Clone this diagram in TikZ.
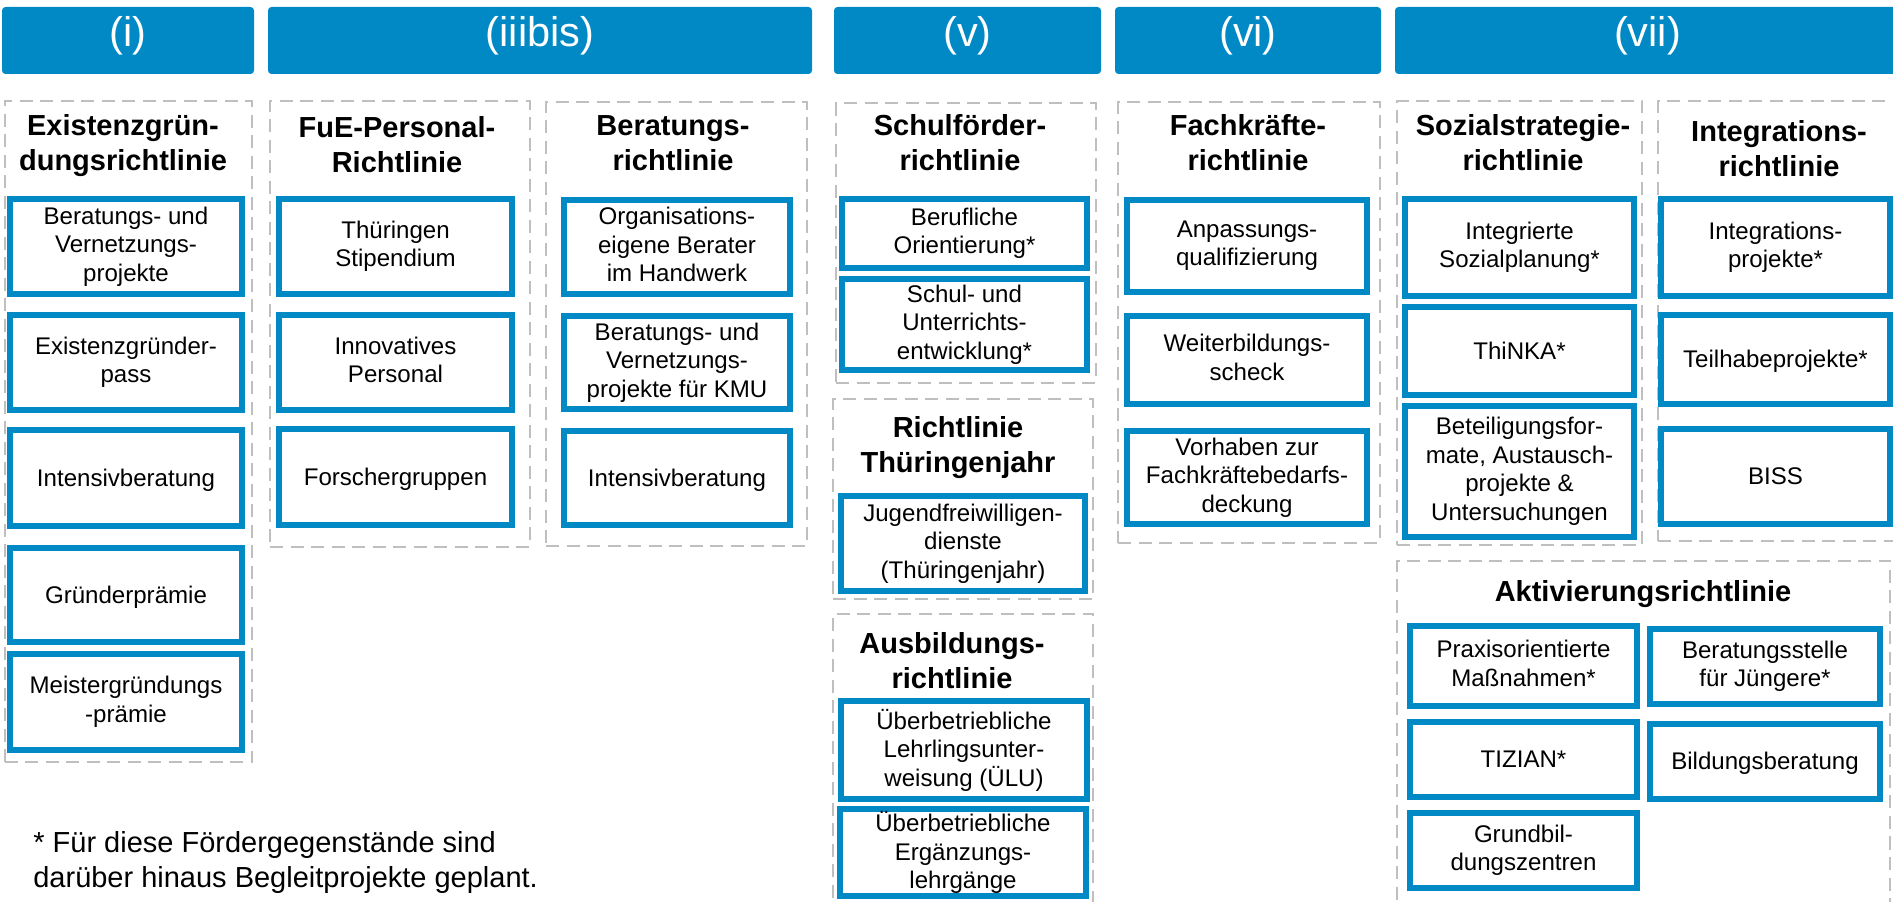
\documentclass[tikz,border=0pt]{standalone}
\usepackage{fontspec}
\setmainfont{Liberation Sans}
\definecolor{headblue}{RGB}{0,137,196}
\definecolor{groupgray}{RGB}{191,191,191}

\begin{document}
\begin{tikzpicture}[x=0.2mm, y=-0.2mm,
    spanbox/.style n args={4}{at={({(#1+#3)/2},{(#2+#4)/2})},
      minimum width={(#3-#1)*0.2mm}, minimum height={(#4-#2)*0.2mm}},
    head/.style={fill=headblue, rounded corners=2pt, inner sep=0pt, text=white,
      text height=0.9em, text depth=0.21em, font=\fontsize{23.6}{28}\selectfont},
    groupbox/.style={draw=groupgray, line width=0.4mm, dash pattern=on 2.6mm off 1.5mm, inner sep=0pt},
    guideline/.style={anchor=north, align=center, inner sep=0pt,
      font=\bfseries\fontsize{16.5}{19.9}\selectfont,
      execute at begin node={\rule{0pt}{0.9em}}},
    itembox/.style={draw=headblue, line width=2.9pt, fill=white, inner sep=0pt, align=center,
      font=\fontsize{13.7}{16.2}\selectfont,
      execute at begin node={\rule{0pt}{0.9em}},
      execute at end node={\rule[-0.21em]{0pt}{0.21em}}}]
  \useasboundingbox (0,0) rectangle (1893,902);
  \clip (0,0) rectangle (1893,902);

  % Headers
  \node[head, spanbox={2}{7}{254}{74}] (hdI) {(i)};
  \node[head, spanbox={268}{7}{812}{74}] (hdIIIbis) {(iiibis)};
  \node[head, spanbox={834}{7}{1101}{74}] (hdV) {(v)};
  \node[head, spanbox={1115}{7}{1381}{74}] (hdVI) {(vi)};
  \node[head, spanbox={1395}{7}{1900}{74}] (hdVII) {(vii)};

  % (i) Existenzgruendung
  \node[groupbox, spanbox={4.5}{101}{252}{762}] (exGroup) {};
  \node[guideline] (exTitle) at (123,114) {Existenzgrün-\\dungsrichtlinie};
  \foreach \n/\ya/\yb/\txt in {1/199/294/{Beratungs- und\\Vernetzungs-\\projekte},
      2/315/410/{Existenzgründer-\\pass}, 3/430/526/{Intensivberatung},
      4/548/642/{Gründerprämie}, 5/654/750/{Meistergründungs\\-prämie}} {
    \node[itembox, spanbox={10}{\ya}{242}{\yb}] (ex\n) {\txt};
  }

  % (iiibis) FuE-Personal and Beratung
  \node[groupbox, spanbox={270}{101}{530}{547}] (fuGroup) {};
  \node[guideline] (fuTitle) at (397,116) {FuE-Personal-\\Richtlinie};
  \foreach \n/\ya/\yb/\txt in {1/199/294/{Thüringen\\Stipendium},
      2/315/410/{Innovatives\\Personal}, 3/429/525/{Forschergruppen}} {
    \node[itembox, spanbox={279}{\ya}{512}{\yb}] (fu\n) {\txt};
  }
  \node[groupbox, spanbox={546}{102}{807}{546}] (bgGroup) {};
  \node[guideline] (bgTitle) at (673,115) {Beratungs-\\richtlinie};
  \foreach \n/\ya/\yb/\txt in {1/200/294/{Organisations-\\eigene Berater\\im Handwerk},
      2/316/409/{Beratungs- und\\Vernetzungs-\\projekte für KMU}, 3/431/525/{Intensivberatung}} {
    \node[itembox, spanbox={564}{\ya}{790}{\yb}] (bg\n) {\txt};
  }

  % (v) Schule, Thueringenjahr, Ausbildung
  \node[groupbox, spanbox={836}{103}{1096}{383}] (scGroup) {};
  \node[guideline] (scTitle) at (960,114) {Schulförder-\\richtlinie};
  \node[itembox, spanbox={842}{199}{1087}{268}] (sc1) {Berufliche\\Orientierung*};
  \node[itembox, spanbox={842}{279}{1087}{370}] (sc2) {Schul- und\\Unterrichts-\\entwicklung*};
  \node[groupbox, spanbox={833}{399}{1093}{599}] (tjGroup) {};
  \node[guideline] (tjTitle) at (958,416) {Richtlinie\\Thüringenjahr};
  \node[itembox, spanbox={841}{496}{1085}{591}] (tj1) {Jugendfreiwilligen-\\dienste\\(Thüringenjahr)};
  \node[groupbox, spanbox={833}{614}{1093}{910}] (abGroup) {};
  \node[guideline] (abTitle) at (952,632) {Ausbildungs-\\richtlinie};
  \node[itembox, spanbox={841}{701}{1087}{799}] (ab1) {Überbetriebliche\\Lehrlingsunter-\\weisung (ÜLU)};
  \node[itembox, spanbox={840}{809}{1086}{896}] (ab2) {Überbetriebliche\\Ergänzungs-\\lehrgänge};

  % (vi) Fachkraefte
  \node[groupbox, spanbox={1118}{102}{1380}{543}] (fkGroup) {};
  \node[guideline] (fkTitle) at (1248,114) {Fachkräfte-\\richtlinie};
  \foreach \n/\ya/\yb/\txt in {1/200/292/{Anpassungs-\\qualifizierung},
      2/316/404/{Weiterbildungs-\\scheck}, 3/431/524/{Vorhaben zur\\Fachkräftebedarfs-\\deckung}} {
    \node[itembox, spanbox={1127}{\ya}{1367}{\yb}] (fk\n) {\txt};
  }

  % (vii) Sozialstrategie, Integration, Aktivierung
  \node[groupbox, spanbox={1397}{101}{1642}{545}] (ssGroup) {};
  \node[guideline] (ssTitle) at (1523,114) {Sozialstrategie-\\richtlinie};
  \foreach \n/\ya/\yb/\txt in {1/199/296/{Integrierte\\Sozialplanung*},
      2/307/395/{ThiNKA*}, 3/406/537/{Beteiligungsfor-\\mate, Austausch-\\projekte \&\\Untersuchungen}} {
    \node[itembox, spanbox={1405}{\ya}{1634}{\yb}] (ss\n) {\txt};
  }
  \node[groupbox, spanbox={1658}{101}{1900}{541}] (igGroup) {};
  \node[guideline] (igTitle) at (1779,120) {Integrations-\\richtlinie};
  \foreach \n/\ya/\yb/\txt in {1/199/296/{Integrations-\\projekte*},
      2/315/404/{Teilhabeprojekte*}, 3/429/524/{BISS}} {
    \node[itembox, spanbox={1661}{\ya}{1890}{\yb}] (ig\n) {\txt};
  }
  \node[groupbox, spanbox={1397}{561}{1890}{910}] (akGroup) {};
  \node[guideline] (akTitle) at (1643,575) {Aktivierungsrichtlinie};
  \foreach \n/\ya/\yb/\txt in {1/626/706/{Praxisorientierte\\Maßnahmen*},
      2/722/797/{TIZIAN*}, 3/813/888/{Grundbil-\\dungszentren}} {
    \node[itembox, spanbox={1410}{\ya}{1637}{\yb}] (akL\n) {\txt};
  }
  \foreach \n/\ya/\yb/\txt in {1/629/704/{Beratungsstelle\\für Jüngere*},
      2/724/799/{Bildungsberatung}} {
    \node[itembox, spanbox={1650}{\ya}{1880}{\yb}] (akR\n) {\txt};
  }

  % Footnote
  \node[anchor=north west, align=left, inner sep=0pt, font=\fontsize{16.5}{19.9}\selectfont,
    execute at begin node={\rule{0pt}{0.9em}}] (note) at (33,831)
    {* Für diese Fördergegenstände sind\\darüber hinaus Begleitprojekte geplant.};
\end{tikzpicture}
\end{document}
